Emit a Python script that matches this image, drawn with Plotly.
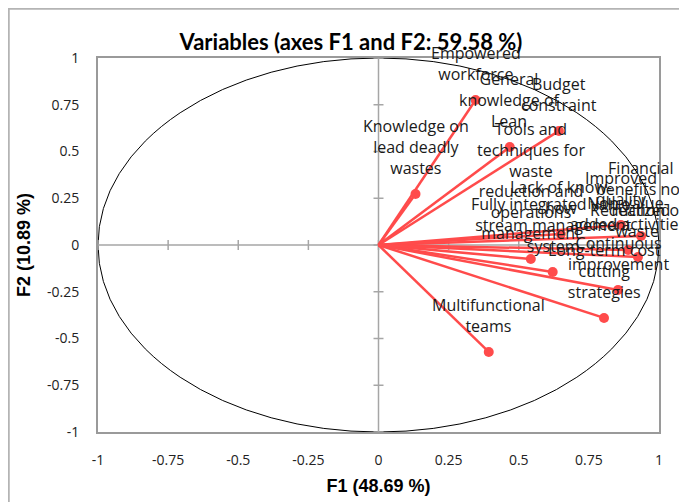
import plotly.graph_objects as go

# ---- data ----
variables = [
    "Empowered<br>workforce",
    "Knowledge on<br>lead deadly<br>wastes",
    "General<br>knowledge of<br>Lean",
    "Budget<br>constraint",
    "Tools and<br>techniques for<br>waste<br>reduction and<br>operations<br>management",
    "Fully integrated value-<br>stream management<br>system",
    "Multifunctional<br>teams",
    "Long-term cost<br>cutting<br>strategies",
    "Continuous<br>improvement",
    "Financial<br>benefits not<br>realized",
    "Improved<br>quality",
    "Lack of know-<br>how",
    "Non-value-<br>added activities",
    "Reduction of<br>waste",
]
f1 = [0.346, 0.132, 0.468, 0.643, 0.543, 0.621, 0.393, 0.804, 0.854, 0.936, 0.864, 0.650, 0.890, 0.925]
f2 = [0.775, 0.273, 0.524, 0.610, -0.075, -0.144, -0.572, -0.390, -0.241, 0.048, 0.107, 0.059, -0.027, -0.064]

tick_vals = [-1, -0.75, -0.5, -0.25, 0, 0.25, 0.5, 0.75, 1]
tick_text = ["-1", "-0.75", "-0.5", "-0.25", "0", "0.25", "0.5", "0.75", "1"]

title_text = "Variables (axes F1 and F2: 59.58 %)"
xtitle = "F1 (48.69 %)"
ytitle = "F2 (10.89 %)"

RED = "#ff4b4b"
GREY = "#a6a6a6"
W, H = 687, 502
# the page body adds an 8px offset, so margins are compensated
ML, MR, MT, MB = 90, 36, 50, 78

fig = go.Figure()

# zero axes through the origin
fig.add_trace(go.Scatter(x=[-1, 1], y=[0, 0], mode="lines",
                         line=dict(color=GREY, width=1.5), hoverinfo="skip", showlegend=False))
fig.add_trace(go.Scatter(x=[0, 0], y=[-1, 1], mode="lines",
                         line=dict(color=GREY, width=1.5), hoverinfo="skip", showlegend=False))
# tick marks on the zero axes
dx = 5 / (W - ML - MR) * 2
dy = 5 / (H - MT - MB) * 2
tx, ty = [], []
for v in tick_vals:
    tx += [v, v, None]
    ty += [-dy, dy, None]
    tx += [-dx, dx, None]
    ty += [v, v, None]
fig.add_trace(go.Scatter(x=tx, y=ty, mode="lines",
                         line=dict(color=GREY, width=1.5), hoverinfo="skip", showlegend=False))

# vectors
for xv, yv in zip(f1, f2):
    fig.add_trace(go.Scatter(x=[0, xv], y=[0, yv], mode="lines",
                             line=dict(color=RED, width=2.5), hoverinfo="skip", showlegend=False))
fig.add_trace(go.Scatter(x=f1, y=f2, mode="markers",
                         marker=dict(color=RED, size=10), showlegend=False, text=variables))

for xv, yv, lab in zip(f1, f2, variables):
    fig.add_annotation(x=xv, y=yv, text=lab, showarrow=False, xanchor="center",
                       yanchor="bottom", yshift=13,
                       font=dict(family="Open Sans", size=16, color="#1a1a1a"))

# correlation circle
fig.add_shape(type="circle", xref="x", yref="y", x0=-1, y0=-1, x1=1, y1=1,
              line=dict(color="black", width=1), layer="below")

# outer chart border
pw, ph = W - ML - MR, H - MT - MB
fig.add_shape(type="rect", xref="paper", yref="paper",
              x0=(0.5 - ML) / pw, x1=(W + 20 - ML) / pw,
              y0=-(MB + 20) / ph, y1=(H - 0.5 - MB) / ph,
              line=dict(color="#b4b4b4", width=2.5), layer="below")

axis_common = dict(range=[-1, 1], tickvals=tick_vals, ticktext=tick_text,
                   showgrid=False, zeroline=False, showline=True, mirror=True,
                   linecolor="#9a9a9a", linewidth=2, ticks="", automargin=False,
                   tickfont=dict(family="Open Sans", size=14, color="#222"),
                   fixedrange=True)

fig.update_layout(
    width=W, height=H,
    margin=dict(l=ML, r=MR, t=MT, b=MB, autoexpand=False),
    paper_bgcolor="white", plot_bgcolor="white",
    title=dict(text="<b>" + title_text + "</b>", x=343 / W, xanchor="center", y=1 - 34 / H, yanchor="middle",
               font=dict(family="Lato", size=22, color="black"), automargin=False),
    xaxis=dict(**axis_common, ticklabelstandoff=14,
               title=dict(text="<b>" + xtitle + "</b>", standoff=12,
                          font=dict(family="Liberation Sans", size=18, color="black"))),
    yaxis=dict(**axis_common, ticklabelstandoff=14,
               title=dict(text="<b>" + ytitle + "</b>", standoff=12,
                          font=dict(family="Liberation Sans", size=18, color="black"))),
    showlegend=False,
)

fig.write_html("out.html")
